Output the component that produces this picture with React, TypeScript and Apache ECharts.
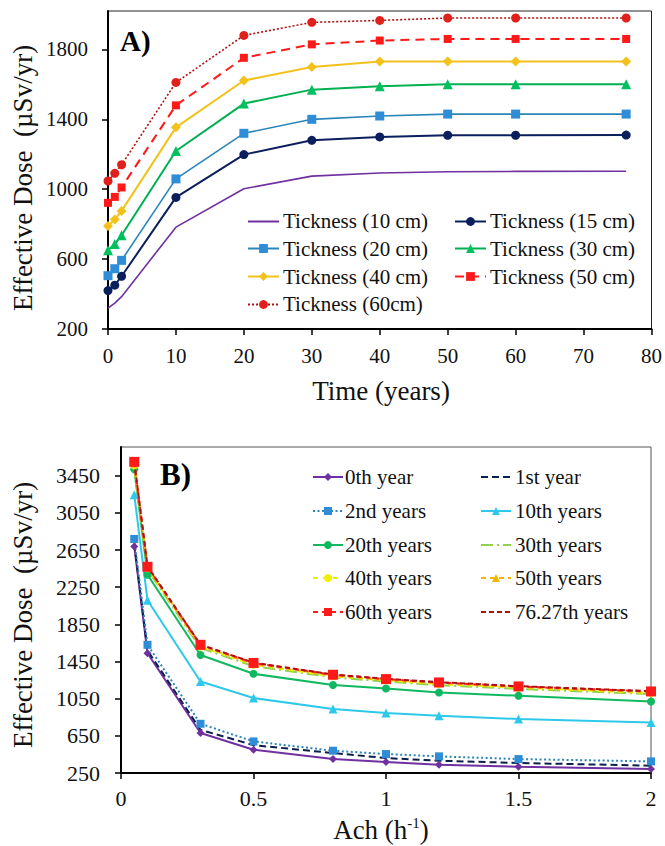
import React, { useEffect, useRef } from 'react';
import * as echarts from 'echarts';

const FONT = 'Liberation Serif';

// ---- Chart A data ----
const timeYears = [0, 1, 2, 10, 20, 30, 40, 50, 60, 76.27];
const t10 = [320, 348, 385, 783, 1003, 1075, 1093, 1100, 1102, 1103];
const t15 = [420, 451, 502, 953, 1198, 1280, 1299, 1309, 1309, 1310];
const t20 = [505, 545, 593, 1059, 1320, 1400, 1419, 1430, 1430, 1430];
const t30 = [651, 686, 737, 1219, 1490, 1570, 1589, 1601, 1601, 1601];
const t40 = [789, 827, 876, 1354, 1622, 1699, 1731, 1731, 1731, 1731];
const t50 = [922, 956, 1010, 1480, 1752, 1829, 1851, 1860, 1860, 1860];
const t60 = [1047, 1091, 1140, 1611, 1880, 1955, 1966, 1980, 1980, 1980];
const yTicksA = [200, 600, 1000, 1400, 1800];
const legendA1 = ['Tickness (10 cm)', 'Tickness (20 cm)', 'Tickness (40 cm)', 'Tickness (60cm)'];
const legendA2 = ['Tickness (15 cm)', 'Tickness (30 cm)', 'Tickness (50 cm)'];

// ---- Chart B data ----
const ach = [0.05, 0.1, 0.3, 0.5, 0.8, 1.0, 1.2, 1.5, 2.0];
const y0 = [2690, 1540, 680, 500, 400, 368, 339, 318, 293];
const y1 = [2720, 1570, 715, 550, 465, 411, 382, 358, 329];
const y2 = [2770, 1630, 780, 590, 490, 454, 429, 400, 375];
const y10 = [3245, 2110, 1236, 1057, 939, 896, 867, 831, 795];
const y20 = [3520, 2385, 1520, 1318, 1197, 1160, 1117, 1082, 1020];
const y30 = [3545, 2440, 1595, 1400, 1280, 1235, 1195, 1155, 1100];
const y40 = [3560, 2455, 1610, 1415, 1292, 1248, 1208, 1168, 1110];
const y50 = [3575, 2462, 1618, 1425, 1298, 1253, 1215, 1175, 1118];
const y60 = [3600, 2470, 1630, 1435, 1308, 1261, 1225, 1182, 1128];
const y76 = [3605, 2475, 1632, 1438, 1311, 1264, 1228, 1185, 1131];
const yTicksB = [250, 650, 1050, 1450, 1850, 2250, 2650, 3050, 3450];
const legendB1 = ['0th year', '2nd years', '20th years', '40th years', '60th years'];
const legendB2 = ['1st year', '10th years', '30th years', '50th years', '76.27th years'];

const pairs = (xs: number[], ys: number[]) => xs.map((x, i) => [x, ys[i]]);

function line(
  name: string,
  idx: number,
  xs: number[],
  ys: number[],
  color: string,
  markerColor: string,
  symbol: string,
  size: number,
  type: any,
  width = 2,
  z = 2
) {
  const none = symbol === 'none';
  return {
    name,
    type: 'line',
    xAxisIndex: idx,
    yAxisIndex: idx,
    data: pairs(xs, ys),
    symbol,
    symbolSize: size,
    showSymbol: !none,
    lineStyle: { color, width, type, opacity: 1 },
    itemStyle: { color: markerColor, borderWidth: 0, opacity: none ? 0 : 1 },
    z,
    emphasis: { disabled: true },
  };
}

const axisCommon = {
  type: 'value',
  splitLine: { show: false },
  axisLine: { show: true, onZero: false, lineStyle: { color: '#000', width: 2 } },
  axisTick: { show: true, length: 6, lineStyle: { color: '#000', width: 1.5 } },
};

const plain = (v: number) => String(v);

// Legend layout: [names, iconLeft, textLeft, firstRowCenter, rowStep, iconWidth, iconHeight]
const legendCols: [string[], number, number, number, number, number, number][] = [
  [legendA1, 247, 283, 221, 27.8, 31, 11],
  [legendA2, 454, 490, 221, 27.8, 31, 11],
  [legendB1, 312, 345, 477, 33.75, 30, 10],
  [legendB2, 480, 515, 477, 33.75, 30, 10],
];

export default function App() {
  const ref = useRef<HTMLDivElement>(null);
  useEffect(() => {
    if (!ref.current) return;
    const chart = echarts.init(ref.current, undefined, { renderer: 'svg' });

    const legends: any[] = [];
    const legendTexts: any[] = [];
    legendCols.forEach(([names, iconLeft, textLeft, y0c, step, w, h]) => {
      names.forEach((name, i) => {
        const cy = y0c + i * step;
        legends.push({
          orient: 'horizontal',
          left: iconLeft,
          top: Math.round(cy - h / 2),
          padding: 0,
          itemWidth: w,
          itemHeight: h,
          itemGap: 0,
          formatter: () => '',
          textStyle: { fontSize: 1 },
          data: [name],
          selectedMode: false,
        });
        legendTexts.push({
          type: 'text',
          x: textLeft,
          y: cy,
          style: {
            text: name,
            font: `21px "${FONT}"`,
            fill: '#111',
            align: 'left',
            verticalAlign: 'middle',
            textAlign: 'left',
            textVerticalAlign: 'middle',
          },
        });
      });
    });

    const option: any = {
      animation: false,
      backgroundColor: '#fff',
      textStyle: { fontFamily: FONT },
      grid: [
        { left: 108, top: 11, width: 545, height: 318, show: true, borderColor: '#222', borderWidth: 1, backgroundColor: 'transparent' },
        { left: 121, top: 447, width: 530, height: 326, show: true, borderColor: '#555', borderWidth: 1, backgroundColor: 'transparent' },
      ],
      xAxis: [
        {
          ...axisCommon,
          gridIndex: 0,
          min: 0,
          max: 80,
          interval: 10,
          axisLabel: { fontFamily: FONT, fontSize: 21, color: '#111', margin: 16, formatter: plain },
        },
        {
          ...axisCommon,
          gridIndex: 1,
          min: 0,
          max: 2,
          interval: 0.5,
          axisLabel: { fontFamily: FONT, fontSize: 22, color: '#111', margin: 14, formatter: plain },
        },
      ],
      yAxis: [
        {
          ...axisCommon,
          gridIndex: 0,
          min: 200,
          max: 2020,
          interval: 400,
          axisTick: { ...axisCommon.axisTick, customValues: yTicksA },
          axisLabel: { fontFamily: FONT, fontSize: 21, color: '#111', margin: 20, customValues: yTicksA, formatter: plain },
        },
        {
          ...axisCommon,
          gridIndex: 1,
          min: 250,
          max: 3760,
          interval: 400,
          axisTick: { ...axisCommon.axisTick, customValues: yTicksB },
          axisLabel: { fontFamily: FONT, fontSize: 22, color: '#111', margin: 21, customValues: yTicksB, formatter: plain },
        },
      ],
      legend: legends,
      series: [
        line('Tickness (10 cm)', 0, timeYears, t10, '#7030A0', '#7030A0', 'none', 0, 'solid', 1.6),
        line('Tickness (15 cm)', 0, timeYears, t15, '#0B1F5C', '#0B1F5C', 'circle', 9, 'solid'),
        line('Tickness (20 cm)', 0, timeYears, t20, '#2A86B8', '#2E8DD6', 'rect', 9, 'solid', 1.6),
        line('Tickness (30 cm)', 0, timeYears, t30, '#00B050', '#00C060', 'triangle', 10, 'solid'),
        line('Tickness (40 cm)', 0, timeYears, t40, '#F2C21B', '#F2C21B', 'diamond', 10, 'solid'),
        line('Tickness (50 cm)', 0, timeYears, t50, '#FF1A1A', '#FF1A1A', 'rect', 8, [9, 6]),
        line('Tickness (60cm)', 0, timeYears, t60, '#B01010', '#E0201B', 'circle', 9, [2, 2], 1.6),

        line('0th year', 1, ach, y0, '#7030A0', '#7030A0', 'diamond', 8, 'solid', 2, 3),
        line('1st year', 1, ach, y1, '#0B1F4C', '#0B1F4C', 'none', 0, [7, 4], 2, 3),
        line('2nd years', 1, ach, y2, '#2A86B8', '#2E8DD6', 'rect', 8, [2, 2.5], 2, 3),
        line('10th years', 1, ach, y10, '#2EC8EA', '#2EC8EA', 'triangle', 9, 'solid', 2, 3),
        line('20th years', 1, ach, y20, '#10B860', '#10B860', 'circle', 8, 'solid', 2, 3),
        line('30th years', 1, ach, y30, '#92D050', '#92D050', 'none', 0, [12, 4, 2, 4], 2, 3),
        line('40th years', 1, ach, y40, '#E8F000', '#F0F000', 'circle', 8, [5, 5], 2, 3),
        line('50th years', 1, ach, y50, '#F2B800', '#F2B800', 'triangle', 7, [5, 4], 2, 3),
        line('60th years', 1, ach, y60, '#FF1A1A', '#FF1A1A', 'rect', 10, [5, 4], 2, 4),
        line('76.27th years', 1, ach, y76, '#B01010', '#B01010', 'none', 0, [5, 3], 2, 4),
      ],
      graphic: [
        ...legendTexts,
        {
          type: 'text',
          x: 23,
          y: 178,
          rotation: Math.PI / 2,
          style: {
            text: 'Effective Dose  (µSv/yr)',
            font: `27px "${FONT}"`,
            fill: '#111',
            align: 'center',
            verticalAlign: 'middle',
            textAlign: 'center',
            textVerticalAlign: 'middle',
          },
        },
        {
          type: 'text',
          x: 381,
          y: 391,
          style: {
            text: 'Time (years)',
            font: `27px "${FONT}"`,
            fill: '#111',
            align: 'center',
            verticalAlign: 'middle',
            textAlign: 'center',
            textVerticalAlign: 'middle',
          },
        },
        {
          type: 'text',
          x: 120,
          y: 41,
          style: {
            text: 'A)',
            font: `bold 29px "${FONT}"`,
            fill: '#000',
            align: 'left',
            verticalAlign: 'middle',
            textAlign: 'left',
            textVerticalAlign: 'middle',
          },
        },
        {
          type: 'text',
          x: 23,
          y: 615,
          rotation: Math.PI / 2,
          style: {
            text: 'Effective Dose  (µSv/yr)',
            font: `27px "${FONT}"`,
            fill: '#111',
            align: 'center',
            verticalAlign: 'middle',
            textAlign: 'center',
            textVerticalAlign: 'middle',
          },
        },
        {
          type: 'text',
          x: 381,
          y: 830,
          style: {
            text: '{a|Ach (h}{s|-1}{a|)}',
            font: `27px "${FONT}"`,
            fill: '#111',
            align: 'center',
            verticalAlign: 'middle',
            textAlign: 'center',
            textVerticalAlign: 'middle',
            rich: {
              a: { fontFamily: FONT, fontSize: 27, fill: '#111' },
              s: { fontFamily: FONT, fontSize: 15, fill: '#111', padding: [0, 0, 14, 0] },
            },
          },
        },
        {
          type: 'text',
          x: 160,
          y: 474,
          style: {
            text: 'B)',
            font: `bold 31px "${FONT}"`,
            fill: '#000',
            align: 'left',
            verticalAlign: 'middle',
            textAlign: 'left',
            textVerticalAlign: 'middle',
          },
        },
      ],
    };
    chart.setOption(option);
    return () => chart.dispose();
  }, []);
  return (
    <div
      ref={ref}
      style={{ position: 'fixed', left: 0, top: 0, width: 665, height: 846, background: '#fff' }}
    />
  );
}
